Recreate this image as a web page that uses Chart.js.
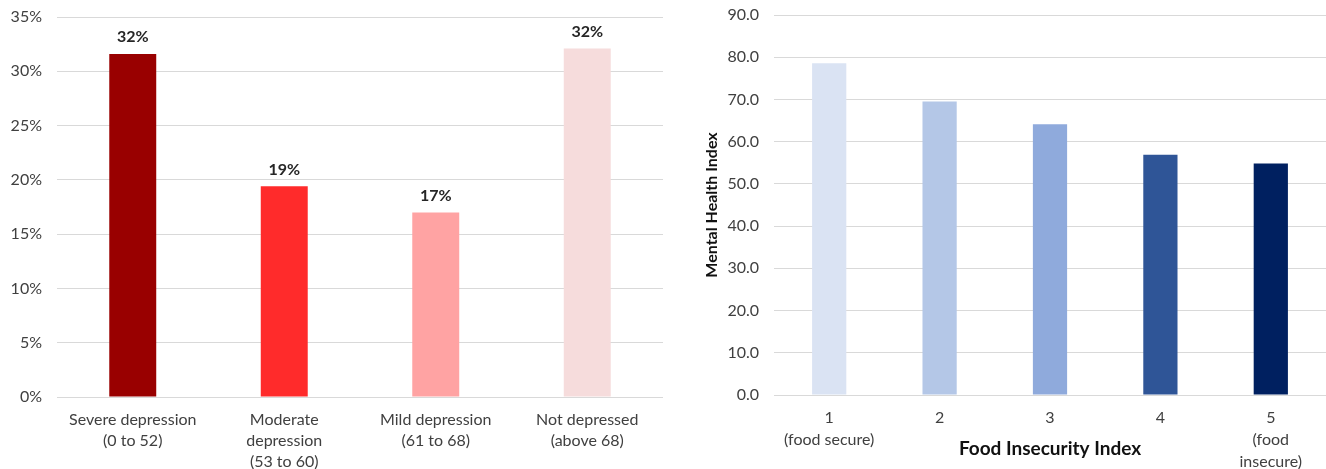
<!DOCTYPE html>
<html>
<head>
<meta charset="utf-8">
<script src="https://cdn.jsdelivr.net/npm/chart.js@4/dist/chart.umd.min.js"></script>
<style>
  html, body { margin: 0; padding: 0; background: #ffffff; }
  body { width: 1326px; height: 469px; position: relative; overflow: hidden; }
  .panel { position: absolute; top: 0; }
  #leftPanel { left: 0; width: 672px; height: 469px; }
  #rightPanel { left: 680px; width: 646px; height: 469px; }
</style>
</head>
<body>
<div class="panel" id="leftPanel"><canvas id="depressionChart" width="672" height="469"></canvas></div>
<div class="panel" id="rightPanel"><canvas id="foodChart" width="646" height="469"></canvas></div>
<script>
// Share of respondents by depression category (%)
const depressionCategories = [
  ["Severe depression", "(0 to 52)"],
  ["Moderate", "depression", "(53 to 60)"],
  ["Mild depression", "(61 to 68)"],
  ["Not depressed", "(above 68)"]
];
const depressionShares = [31.6, 19.4, 17.0, 32.1];
const depressionColors = ["#990000", "#FF2B2B", "#FFA3A3", "#F6DCDC"];

// Mean mental health index by food insecurity level
const foodCategories = [
  ["1", "(food secure)"],
  ["2"],
  ["3"],
  ["4"],
  ["5", "(food", "insecure)"]
];
const mentalHealthIndex = [78.6, 69.5, 64.1, 56.9, 54.8];
const foodColors = ["#DAE3F3", "#B4C7E7", "#8FAADC", "#2F5597", "#002060"];

const FONT = "Lato, 'Open Sans', sans-serif";
const TEXT = "#404040";
const GRID = "#D9D9D9";

// Percent labels above each bar
const valueLabels = {
  id: "valueLabels",
  afterDatasetsDraw(chart, args, opts) {
    if (!opts.enabled) return;
    const ctx = chart.ctx;
    const meta = chart.getDatasetMeta(0);
    const data = chart.data.datasets[0].data;
    ctx.save();
    ctx.font = "bold 16px " + FONT;
    ctx.fillStyle = "#262626";
    ctx.textAlign = "center";
    ctx.textBaseline = "middle";
    meta.data.forEach((bar, i) => {
      ctx.fillText(Math.round(data[i]) + "%", bar.x, bar.y - 17);
    });
    ctx.restore();
  }
};

// Fixed-size value axis; the plot top is set by layout padding alone
const fixedY = width => s => {
  s.width = width;
  s.paddingTop = 0;
  s.paddingBottom = 0;
};

new Chart(document.getElementById("depressionChart"), {
  type: "bar",
  data: {
    labels: depressionCategories,
    datasets: [{
      data: depressionShares,
      backgroundColor: depressionColors,
      categoryPercentage: 1,
      barPercentage: 0.31
    }]
  },
  options: {
    responsive: false,
    devicePixelRatio: 1,
    animation: false,
    layout: { padding: { top: 17, right: 9, left: 0, bottom: 0 } },
    plugins: { legend: { display: false }, tooltip: { enabled: false }, valueLabels: { enabled: true } },
    scales: {
      x: {
        grid: { display: false, drawTicks: false },
        border: { display: false },
        ticks: { color: TEXT, font: { family: FONT, size: 16, lineHeight: 1.31 }, padding: 12, maxRotation: 0, autoSkip: false },
        afterFit: s => { s.height = 72; }
      },
      y: {
        min: 0, max: 35,
        grid: { color: GRID, lineWidth: 1, drawTicks: false },
        border: { display: false },
        ticks: { stepSize: 5, color: TEXT, font: { family: FONT, size: 16 }, padding: 15, callback: v => v + "%" },
        afterFit: fixedY(57)
      }
    }
  },
  plugins: [valueLabels]
});

new Chart(document.getElementById("foodChart"), {
  type: "bar",
  data: {
    labels: foodCategories,
    datasets: [{
      data: mentalHealthIndex,
      backgroundColor: foodColors,
      categoryPercentage: 1,
      barPercentage: 0.31
    }]
  },
  options: {
    responsive: false,
    devicePixelRatio: 1,
    animation: false,
    layout: { padding: { top: 15, right: 0, left: 18, bottom: 0 } },
    plugins: { legend: { display: false }, tooltip: { enabled: false }, valueLabels: { enabled: false } },
    scales: {
      x: {
        grid: { display: false, drawTicks: false },
        border: { display: false },
        ticks: { color: TEXT, font: { family: FONT, size: 16, lineHeight: 1.375 }, padding: 12, maxRotation: 0, autoSkip: false },
        title: { display: true, text: "Food Insecurity Index", color: "#111111", font: { family: FONT, size: 19, weight: "bold" }, padding: { top: 0, bottom: 9 } },
        afterFit: s => { s.height = 74; }
      },
      y: {
        min: 0, max: 90,
        grid: { color: GRID, lineWidth: 1, drawTicks: false },
        border: { display: false },
        ticks: { stepSize: 10, color: TEXT, font: { family: FONT, size: 16 }, padding: 15, callback: v => v.toFixed(1) },
        title: { display: true, text: "Mental Health Index", color: "#111111", font: { family: FONT, size: 16, weight: "bold" }, padding: { top: 4, bottom: 4 } },
        afterFit: fixedY(76)
      }
    }
  },
  plugins: [valueLabels]
});
</script>
</body>
</html>
